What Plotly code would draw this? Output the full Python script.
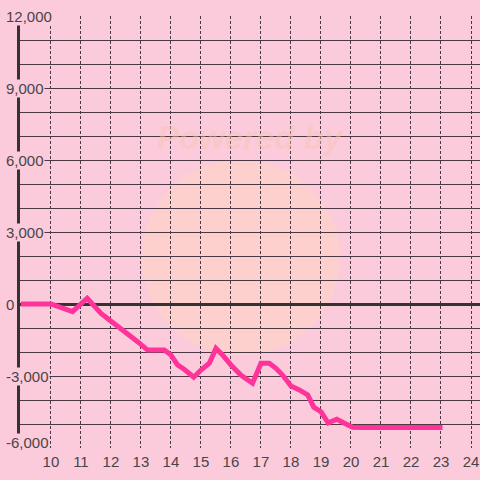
import plotly.graph_objects as go

# data
x_vals = [9, 10, 10.72, 11.21, 11.67, 12.17, 12.56, 12.89, 13.22, 13.78, 14.0, 14.22,
          14.44, 14.76, 15.0, 15.28, 15.5, 15.72, 16.0, 16.33, 16.72, 17.0, 17.28, 17.5,
          17.72, 18.0, 18.28, 18.56, 18.76, 19.0, 19.24, 19.53, 19.78, 20.06, 20.33, 23.05]
y_vals = [0, 0, -320, 240, -390, -870, -1220, -1570, -1920, -1920, -2120, -2540,
          -2720, -3050, -2750, -2470, -1850, -2120, -2540, -2960, -3300, -2470, -2470, -2680,
          -2960, -3420, -3580, -3790, -4300, -4490, -4950, -4800, -4970, -5140, -5150, -5150]
x_ticks = list(range(10, 25))
y_labels = [-6000, -3000, 0, 3000, 6000, 9000, 12000]

bg = "#fccbdb"
grid = "#4a3845"
txt = "#4a4446"

trace = go.Scatter(x=x_vals, y=y_vals, mode="lines",
                   line=dict(color="#ff3399", width=5), hoverinfo="skip")

fig = go.Figure(data=[trace])

# y tick labels drawn as annotations so they sit over the axis line like the original
annots = []
for v in y_labels:
    annots.append(dict(x=-15 / 460, xref="paper", y=v, yref="y", text=f"{v:,}",
                       showarrow=False, xanchor="left", yanchor="middle",
                       yshift=6 if v == y_labels[0] else 0,
                       bgcolor=bg, borderpad=0,
                       font=dict(family="Liberation Sans, Arial", size=15, color=txt)))

# faint watermark
annots.append(dict(x=0.5, y=0.729, xref="paper", yref="paper", text="<b><i>Powered by</i></b>",
                   showarrow=False, yshift=16, font=dict(family="Liberation Sans, Arial", size=33,
                                                         color="rgba(248,196,176,0.45)")))

fig.update_layout(
    width=480, height=480,
    margin=dict(l=20, r=0, t=16, b=32),
    paper_bgcolor=bg, plot_bgcolor=bg,
    showlegend=False,
    annotations=annots,
    shapes=[dict(type="circle", xref="paper", yref="paper", layer="below",
                 x0=0.265, x1=0.695, y0=0.215, y1=0.667, line=dict(width=0),
                 fillcolor="rgba(255,214,190,0.45)")],
    xaxis=dict(range=[8.97, 24.3], tickvals=x_ticks, showgrid=True, gridcolor=grid,
               gridwidth=1.2, griddash="3px,2px", zeroline=False, showline=False,
               ticks="", ticklabelstandoff=3,
               tickfont=dict(family="Liberation Sans, Arial", size=15, color=txt),
               layer="below traces", fixedrange=True),
    yaxis=dict(range=[-6000, 12000], dtick=1000, showgrid=True, gridcolor=grid,
               gridwidth=1.3, showticklabels=False, ticks="",
               zeroline=True, zerolinecolor="#333333", zerolinewidth=3,
               showline=True, linecolor="#333333", linewidth=3,
               layer="below traces", fixedrange=True),
)

fig.write_html("out.html", config={"displayModeBar": False},
               post_script="document.body.style.margin='0';")
